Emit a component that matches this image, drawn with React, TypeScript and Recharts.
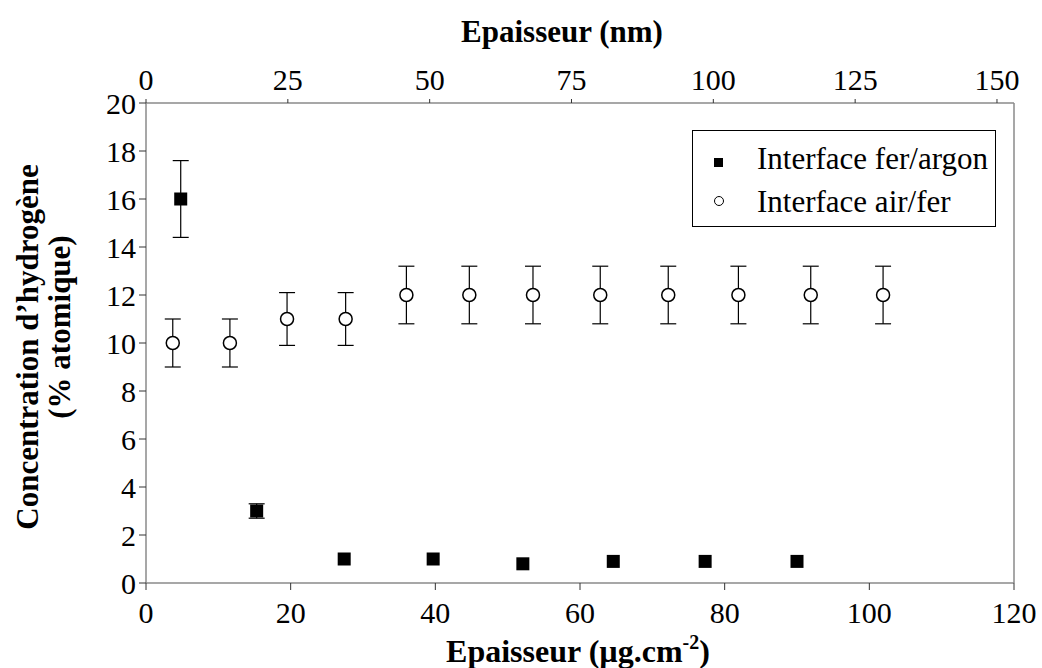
import React from 'react';
import { ScatterChart, Scatter, XAxis, YAxis, ErrorBar, Legend, ReferenceLine } from 'recharts';

const seriesNames = ['Interface fer/argon', 'Interface air/fer'];

const ferArgonX = [4.8, 15.3, 27.4, 39.7, 52.1, 64.6, 77.3, 90.0];
const ferArgonY = [16, 3, 1, 1, 0.8, 0.9, 0.9, 0.9];
const ferArgonErr = [1.6, 0.3, 0, 0, 0, 0, 0, 0];

const airFerX = [3.7, 11.6, 19.5, 27.6, 36.0, 44.7, 53.5, 62.8, 72.2, 81.9, 91.9, 101.9];
const airFerY = [10, 10, 11, 11, 12, 12, 12, 12, 12, 12, 12, 12];
const airFerErr = [1, 1, 1.1, 1.1, 1.2, 1.2, 1.2, 1.2, 1.2, 1.2, 1.2, 1.2];

const bottomTicks = [0, 20, 40, 60, 80, 100, 120];
const topTicks = [0, 25, 50, 75, 100, 125, 150];
const topDomainMax = 153;
const yTicks = [0, 2, 4, 6, 8, 10, 12, 14, 16, 18, 20];

const ferArgon = ferArgonX.map((x, i) => ({ x, y: ferArgonY[i], err: ferArgonErr[i] }));
const airFer = airFerX.map((x, i) => ({ x, y: airFerY[i], err: airFerErr[i] }));
// invisible anchor points so the secondary (nm) axis gets a scale
const topAnchor = topTicks.map((t) => ({ x: t, y: 0 }));

const FONT = '"Liberation Serif", "Times New Roman", serif';
const AXIS = '#8a8a8a';

const SquareShape = (p: any) => (
  <rect x={p.cx - 6.5} y={p.cy - 6.5} width={13} height={13} fill="#000" />
);
const CircleShape = (p: any) => (
  <circle cx={p.cx} cy={p.cy} r={6.5} fill="#fff" stroke="#000" strokeWidth={1.5} />
);
const NoShape = () => <g />;

const LegendBox = () => (
  <div
    style={{
      width: 304,
      height: 97,
      boxSizing: 'border-box',
      border: '1.5px solid #000',
      background: '#fff',
      fontFamily: FONT,
      fontSize: 31,
      color: '#000',
      position: 'relative',
    }}
  >
    <div style={{ position: 'absolute', left: 21, top: 27, width: 9, height: 9, background: '#000' }} />
    <div style={{ position: 'absolute', left: 64, top: 10, lineHeight: '36px', whiteSpace: 'nowrap' }}>
      {seriesNames[0]}
    </div>
    <div
      style={{
        position: 'absolute', left: 21, top: 65, width: 10, height: 10, boxSizing: 'border-box',
        border: '1px solid #000', borderRadius: '50%', background: '#fff',
      }}
    />
    <div style={{ position: 'absolute', left: 64, top: 53, lineHeight: '36px', whiteSpace: 'nowrap' }}>
      {seriesNames[1]}
    </div>
  </div>
);

const BottomTitle = (props: any) => {
  const vb = props.viewBox || {};
  const cx = vb.x + vb.width / 2 - 2;
  return (
    <text x={cx} y={662} textAnchor="middle" fontFamily={FONT} fontWeight="bold" fontSize={32} fill="#000">
      Epaisseur (µg.cm
      <tspan fontSize={20} dy={-13}>-2</tspan>
      <tspan dy={13}>)</tspan>
    </text>
  );
};

const TopTitle = (props: any) => {
  const vb = props.viewBox || {};
  const cx = vb.x + vb.width / 2 - 18;
  return (
    <text x={cx} y={42} textAnchor="middle" fontFamily={FONT} fontWeight="bold" fontSize={31} fill="#000">
      Epaisseur (nm)
    </text>
  );
};

const YTitle = (props: any) => {
  const vb = props.viewBox || {};
  const c1 = vb.y + vb.height / 2 + 4;
  const c2 = vb.y + vb.height / 2 - 16;
  return (
    <g>
      <text x={38} y={c1} transform={`rotate(-90 38 ${c1})`} textAnchor="middle" fontFamily={FONT} fontWeight="bold" fontSize={31} fill="#000">
        Concentration d’hydrogène
      </text>
      <text x={70} y={c2} transform={`rotate(-90 70 ${c2})`} textAnchor="middle" fontFamily={FONT} fontWeight="bold" fontSize={31} fill="#000">
        (% atomique)
      </text>
    </g>
  );
};

const tickStyle = { fontFamily: FONT, fontSize: 30, fill: '#000' };

export default function App() {
  return (
    <div style={{ position: 'absolute', left: 0, top: 0, width: 1042, height: 668, background: '#fff' }}>
      <ScatterChart
        width={1042}
        height={668}
        margin={{ top: 73, right: 28, bottom: 55, left: 86 }}
      >
        <XAxis
          xAxisId="bottom"
          type="number"
          dataKey="x"
          domain={[0, 120]}
          ticks={bottomTicks}
          allowDataOverflow
          height={30}
          orientation="bottom"
          axisLine={{ stroke: AXIS, strokeWidth: 1.5 }}
          tickLine={{ stroke: '#333' }}
          tickSize={7}
          tickMargin={12}
          tick={tickStyle}
          interval={0}
          label={<BottomTitle />}
        />
        <XAxis
          xAxisId="top"
          type="number"
          dataKey="x"
          domain={[0, topDomainMax]}
          ticks={topTicks}
          allowDataOverflow
          height={30}
          orientation="top"
          axisLine={{ stroke: AXIS, strokeWidth: 1.5 }}
          tickLine={{ stroke: '#333' }}
          tickSize={4}
          tickMargin={9}
          tick={tickStyle}
          interval={0}
          label={<TopTitle />}
        />
        <YAxis
          yAxisId="left"
          type="number"
          dataKey="y"
          domain={[0, 20]}
          ticks={yTicks}
          allowDataOverflow
          width={60}
          axisLine={{ stroke: AXIS, strokeWidth: 1.5 }}
          tickLine={{ stroke: '#333' }}
          tickSize={7}
          tickMargin={3}
          tick={tickStyle}
          interval={0}
          label={<YTitle />}
        />
        <ReferenceLine xAxisId="bottom" yAxisId="left" x={120} stroke={AXIS} strokeWidth={1.5} />
        <Scatter
          data={topAnchor}
          xAxisId="top"
          yAxisId="left"
          shape={NoShape}
          legendType="none"
          isAnimationActive={false}
        />
        <Scatter
          name={seriesNames[1]}
          data={airFer}
          xAxisId="bottom"
          yAxisId="left"
          shape={CircleShape}
          isAnimationActive={false}
        >
          <ErrorBar dataKey="err" direction="y" width={8} stroke="#000" strokeWidth={1.2} />
        </Scatter>
        <Scatter
          name={seriesNames[0]}
          data={ferArgon}
          xAxisId="bottom"
          yAxisId="left"
          shape={SquareShape}
          isAnimationActive={false}
        >
          <ErrorBar dataKey="err" direction="y" width={8} stroke="#000" strokeWidth={1.2} />
        </Scatter>
        <Legend
          layout="vertical"
          align="center"
          verticalAlign="middle"
          content={<LegendBox />}
          wrapperStyle={{ position: 'absolute', left: 692, top: 130, width: 304, height: 97 }}
        />
      </ScatterChart>
    </div>
  );
}
